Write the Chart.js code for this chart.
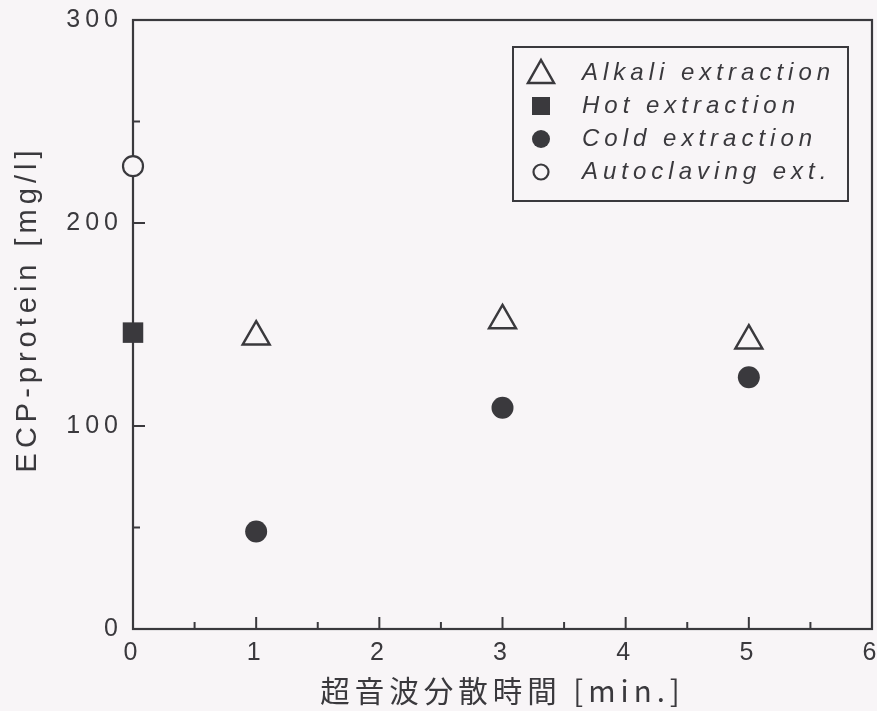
<!DOCTYPE html>
<html>
<head>
<meta charset="utf-8">
<script src="https://cdn.jsdelivr.net/npm/chart.js@4"></script>
<style>
  html, body { margin: 0; padding: 0; background: #f8f5f7; }
  #wrap { width: 877px; height: 711px; }
</style>
</head>
<body>
<div id="wrap"><canvas id="chart"></canvas></div>
<script>
// valeurs
const xLabels = ['0', '1', '2', '3', '4', '5', '6'];
const yLabels = ['0', '100', '200', '300'];
const seriesNames = ['Alkali extraction', 'Hot extraction', 'Cold extraction', 'Autoclaving ext.'];
const yTitle = 'ECP-protein [mg/l]';

const alkaliTime = [1, 3, 5];
const alkaliProtein = [144, 152, 142];
const hotTime = [0];
const hotProtein = [146];
const coldTime = [1, 3, 5];
const coldProtein = [48, 109, 124];
const autoclaveTime = [0];
const autoclaveProtein = [228];

const ink = '#3a393d';
const paper = '#f8f5f7';
const latin = '"Liberation Sans", Arial, sans-serif';

function pts(xs, ys) {
  return xs.map((x, i) => ({ x: x, y: ys[i] }));
}

// cadre + graduations vers l'intérieur
const framePlugin = {
  id: 'frame',
  beforeDatasetsDraw(chart) {
    const { ctx, chartArea: a, scales } = chart;
    ctx.save();
    ctx.strokeStyle = ink;
    ctx.lineWidth = 2.2;
    ctx.strokeRect(a.left, a.top, a.right - a.left, a.bottom - a.top);
    ctx.lineWidth = 2;
    for (let v = 0; v <= 300; v += 50) {
      const y = scales.y.getPixelForValue(v);
      const len = v % 100 === 0 ? 12 : 7;
      ctx.beginPath();
      ctx.moveTo(a.left, y);
      ctx.lineTo(a.left + len, y);
      ctx.stroke();
    }
    for (let v = 0; v <= 6; v += 0.5) {
      const x = scales.x.getPixelForValue(v);
      const len = v % 1 === 0 ? 12 : 7;
      ctx.beginPath();
      ctx.moveTo(x, a.bottom);
      ctx.lineTo(x, a.bottom - len);
      ctx.stroke();
    }
    // titre de l'axe Y (dessiné à la main pour le centrer comme l'original)
    ctx.font = '29px ' + latin;
    ctx.letterSpacing = '5px';
    ctx.fillStyle = ink;
    ctx.textAlign = 'center';
    ctx.textBaseline = 'middle';
    ctx.translate(28, 309);
    ctx.rotate(-Math.PI / 2);
    ctx.fillText(yTitle, 0, 0);
    ctx.restore();
  }
};

// légende encadrée dans la zone du graphique
const boxLegend = {
  id: 'boxLegend',
  afterDraw(chart) {
    const { ctx, chartArea: a } = chart;
    const right = a.right - 24, top = a.top + 27;
    const w = 335, h = 154;
    const left = right - w;
    ctx.save();
    ctx.strokeStyle = ink;
    ctx.lineWidth = 2;
    ctx.strokeRect(left, top, w, h);
    ctx.font = 'italic 24px ' + latin;
    ctx.letterSpacing = '5px';
    ctx.fillStyle = ink;
    ctx.textBaseline = 'middle';
    const mx = left + 28;
    chart.data.datasets.forEach((ds, i) => {
      const y = top + 26 + i * 33;
      ctx.fillStyle = ink;
      ctx.fillText(ds.label, left + 69, y);
      ctx.beginPath();
      if (ds.pointStyle === 'triangle') {
        ctx.moveTo(mx, y - 13);
        ctx.lineTo(mx + 13, y + 10);
        ctx.lineTo(mx - 13, y + 10);
        ctx.closePath();
        ctx.lineWidth = 2.5;
        ctx.stroke();
      } else if (ds.pointStyle === 'rect') {
        ctx.fillRect(mx - 9, y - 9, 18, 18);
      } else if (ds.backgroundColor === ink) {
        ctx.arc(mx, y, 9, 0, Math.PI * 2);
        ctx.fill();
      } else {
        ctx.arc(mx, y, 7.5, 0, Math.PI * 2);
        ctx.lineWidth = 2.2;
        ctx.stroke();
      }
    });
    ctx.restore();
  }
};

// espacement des lettres comme sur l'original
const spacing = {
  id: 'spacing',
  beforeDraw(chart) { chart.ctx.letterSpacing = '5px'; }
};

const config = {
  type: 'scatter',
  data: {
    datasets: [
      {
        label: seriesNames[0],
        data: pts(alkaliTime, alkaliProtein),
        pointStyle: 'triangle',
        pointRadius: 15.5,
        borderColor: ink,
        backgroundColor: paper,
        borderWidth: 2.5,
        clip: false
      },
      {
        label: seriesNames[1],
        data: pts(hotTime, hotProtein),
        pointStyle: 'rect',
        pointRadius: 14.5,
        borderColor: ink,
        backgroundColor: ink,
        borderWidth: 0,
        clip: false
      },
      {
        label: seriesNames[2],
        data: pts(coldTime, coldProtein),
        pointStyle: 'circle',
        pointRadius: 11,
        borderColor: ink,
        backgroundColor: ink,
        borderWidth: 0,
        clip: false
      },
      {
        label: seriesNames[3],
        data: pts(autoclaveTime, autoclaveProtein),
        pointStyle: 'circle',
        pointRadius: 10,
        borderColor: ink,
        backgroundColor: paper,
        borderWidth: 2.2,
        clip: false
      }
    ]
  },
  options: {
    responsive: true,
    maintainAspectRatio: false,
    animation: false,
    layout: { autoPadding: false, padding: { top: 20, right: 5, left: 0, bottom: 0 } },
    plugins: {
      legend: { display: false },
      tooltip: { enabled: false }
    },
    scales: {
      x: {
        type: 'linear',
        min: 0,
        max: 6,
        grid: { display: false, drawTicks: false, tickLength: 0 },
        border: { display: false },
        ticks: {
          stepSize: 1,
          padding: 9,
          color: ink,
          font: { family: latin, size: 25 },
          callback: (v) => xLabels[v] ?? ''
        },
        title: {
          display: true,
          text: '超音波分散時間 [min.]',
          color: ink,
          font: { family: '"Noto Sans CJK JP", "Liberation Sans", sans-serif', size: 29.5 },
          padding: { top: 0, bottom: 3 }
        },
        afterFit(scale) {
          scale.height = 82;
          scale.paddingLeft = 0;
          scale.paddingRight = 0;
        }
      },
      y: {
        min: 0,
        max: 300,
        grid: { display: false, drawTicks: false, tickLength: 0 },
        border: { display: false },
        ticks: {
          stepSize: 100,
          padding: 10,
          color: ink,
          font: { family: latin, size: 25 },
          callback: (v) => yLabels[v / 100] ?? ''
        },
        afterFit(scale) {
          scale.width = 133;
          scale.paddingTop = 0;
          scale.paddingBottom = 0;
        }
      }
    }
  },
  plugins: [spacing, framePlugin, boxLegend]
};

const ctx = document.getElementById('chart').getContext('2d');
const myChart = new Chart(ctx, config);
</script>
</body>
</html>
